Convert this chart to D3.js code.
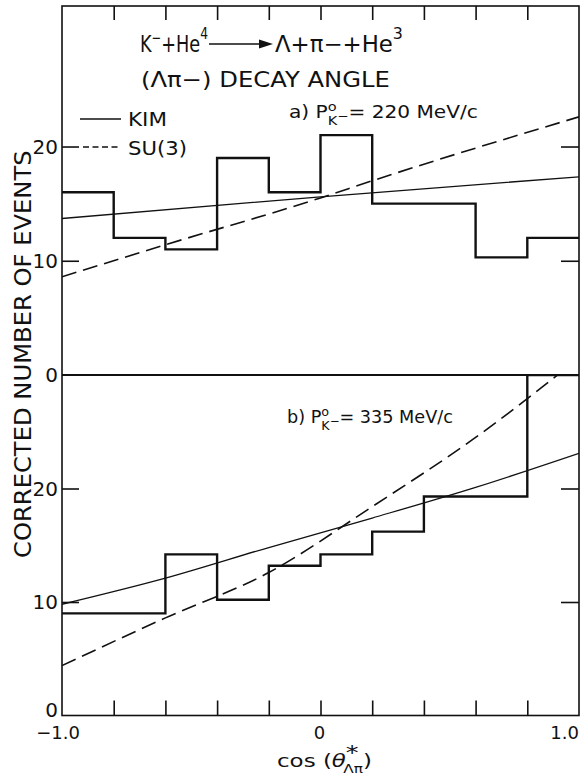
<!DOCTYPE html>
<html><head><meta charset="utf-8">
<script src="https://cdn.jsdelivr.net/npm/d3@7"></script>
<style>
html,body{margin:0;padding:0;background:#fff;}
svg{display:block;}
text{font-family:"DejaVu Sans",sans-serif;fill:#111;}
</style></head><body>
<svg id="chart" width="580" height="776"></svg>
<script>
// ---- data ----
const topEdges  = [-1,-0.8,-0.6,-0.4,-0.2,0,0.2,0.6,0.8,1];
const topCounts = [16,12,11,19,16,21,15,10.3,12];
const botEdges  = [-1,-0.6,-0.4,-0.2,0,0.2,0.4,0.8,1];
const botCounts = [9,14.2,10.2,13.2,14.2,16.2,19.3,30];
const topKimX = [-1,0,1],               topKimY = [13.7,15.6,17.35];
const topSuX  = [-1,-0.6,0,0.2,1],      topSuY  = [8.6,11.4,15.5,17.0,22.6];
const botKimX = [-1,-0.6,-0.2,0.2,0.6,1], botKimY = [9.8,12.1,14.8,17.4,20.1,23.1];
const botSuX  = [-1,-0.6,-0.2,0.2,0.6,1], botSuY  = [4.4,8.6,12.6,18.4,24.5,31.5];
const xTicks = [-0.8,-0.6,-0.4,-0.2,0,0.2,0.4,0.6,0.8];
const xTickLabels = ["−1.0","0","1.0"];
const xTickLabelValues = [-1,0,1];
const yTickValues = [0,10,20];
const yMarkValues = [10,20];
const legendLabels = ["KIM","SU(3)"];
const yTitle = "CORRECTED NUMBER OF EVENTS";

// ---- scales ----
const svg = d3.select("#chart");
const x  = d3.scaleLinear().domain([-1,1]).range([62,579]);
const yT = d3.scaleLinear().domain([0,32.3]).range([375,6]);
const yB = d3.scaleLinear().domain([0,30]).range([715.5,375]);

const defs = svg.append("defs");
defs.append("clipPath").attr("id","cT").append("rect")
  .attr("x",x(-1)).attr("y",yT.range()[1]).attr("width",x(1)-x(-1)).attr("height",yT(0)-yT.range()[1]);
defs.append("clipPath").attr("id","cB").append("rect")
  .attr("x",x(-1)).attr("y",yB(30)).attr("width",x(1)-x(-1)).attr("height",yB(0)-yB(30));

function fitH(g, x0, x1, by){
  const bb = g.node().getBBox();
  const sx = (x1-x0)/bb.width;
  g.attr("transform",`translate(${x0 - bb.x*sx},${by}) scale(${sx},1)`);
}

// ---- panels ----
function panel(y, edges, counts, kx, ky, sx, sy, clip){
  const g = svg.append("g").attr("clip-path",`url(#${clip})`);
  const pts = edges.map((e,i)=>[e, counts[Math.min(i,counts.length-1)]]);
  g.append("path").attr("d", d3.line().x(d=>x(d[0])).y(d=>y(d[1])).curve(d3.curveStepAfter)(pts))
    .attr("fill","none").attr("stroke","#111").attr("stroke-width",2.4);
  g.append("path").attr("d", d3.line().x(d=>x(d[0])).y(d=>y(d[1])).curve(d3.curveMonotoneX)(kx.map((v,i)=>[v,ky[i]])))
    .attr("fill","none").attr("stroke","#111").attr("stroke-width",1.3);
  g.append("path").attr("d", d3.line().x(d=>x(d[0])).y(d=>y(d[1])).curve(d3.curveMonotoneX)(sx.map((v,i)=>[v,sy[i]])))
    .attr("fill","none").attr("stroke","#111").attr("stroke-width",1.6).attr("stroke-dasharray","15,7");
}
panel(yT, topEdges, topCounts, topKimX, topKimY, topSuX, topSuY, "cT");
panel(yB, botEdges, botCounts, botKimX, botKimY, botSuX, botSuY, "cB");

// ---- frame & divider ----
svg.append("rect").attr("x",x(-1)).attr("y",yT.range()[1]).attr("width",x(1)-x(-1)).attr("height",yB(0)-yT.range()[1])
  .attr("fill","none").attr("stroke","#111").attr("stroke-width",1.6);
svg.append("line").attr("x1",x(-1)).attr("x2",x(1)).attr("y1",yT(0)).attr("y2",yT(0))
  .attr("stroke","#111").attr("stroke-width",1.8);

// ---- tick marks via axes ----
function styleAxis(g){ g.select(".domain").remove(); g.selectAll("line").attr("stroke","#111").attr("stroke-width",1.6); g.selectAll("text").remove(); }
svg.append("g").attr("transform",`translate(0,${yT.range()[1]})`)
  .call(d3.axisBottom(x).tickValues(xTicks).tickSize(14).tickFormat("")).call(styleAxis);
svg.append("g").attr("transform",`translate(0,${yB(0)})`)
  .call(d3.axisTop(x).tickValues(xTicks).tickSize(15).tickFormat("")).call(styleAxis);
[yT,yB].forEach(y=>{
  svg.append("g").attr("transform",`translate(${x(-1)},0)`)
    .call(d3.axisRight(y).tickValues(yMarkValues).tickSize(17).tickFormat("")).call(styleAxis);
  svg.append("g").attr("transform",`translate(${x(1)},0)`)
    .call(d3.axisLeft(y).tickValues(yMarkValues).tickSize(18).tickFormat("")).call(styleAxis);
});

// ---- tick labels ----
[yT,yB].forEach(y=>{
  yTickValues.forEach(v=>{
    const off = (y===yB && v===0) ? 1.5 : 7;
    svg.append("text").attr("x",58).attr("y",y(v)+off).attr("text-anchor","end")
      .attr("font-size",20).text(String(v));
  });
});
xTickLabelValues.forEach((v,i)=>{
  const anchor = v===1 ? "end" : "middle";
  const px = v===1 ? x(1) : (v===-1 ? x(-1)-4 : x(0)-1);
  svg.append("text").attr("x",px).attr("y",739).attr("text-anchor",anchor)
    .attr("font-size",18).text(xTickLabels[i]);
});

// ---- legend ----
svg.append("line").attr("x1",80).attr("x2",121).attr("y1",119).attr("y2",119).attr("stroke","#111").attr("stroke-width",1.3);
svg.append("line").attr("x1",83).attr("x2",121).attr("y1",147).attr("y2",147).attr("stroke","#111").attr("stroke-width",1.4).attr("stroke-dasharray","6,3.5");
let g = svg.append("g"); g.append("text").attr("font-size",19.5).text(legendLabels[0]); fitH(g,128,167,126);
g = svg.append("g"); g.append("text").attr("font-size",19.5).text(legendLabels[1]); fitH(g,128,187,155);

// ---- title ----
g = svg.append("g");
let t = g.append("text").attr("font-size",23);
t.append("tspan").text("K");
t.append("tspan").attr("font-size",15).attr("dy",-9).text("−");
t.append("tspan").attr("dy",9).text("+He");
t.append("tspan").attr("font-size",16).attr("dy",-13).text("4");
fitH(g,140,208,52);
svg.append("line").attr("x1",209).attr("x2",262).attr("y1",44).attr("y2",44).attr("stroke","#111").attr("stroke-width",1.6);
svg.append("path").attr("d","M259,39.5L273,44L259,48.5Z").attr("fill","#111");
g = svg.append("g");
t = g.append("text").attr("font-size",23);
t.append("tspan").text("Λ+π−+He");
t.append("tspan").attr("font-size",16).attr("dy",-13).text("3");
fitH(g,275,403,52);
g = svg.append("g");
g.append("text").attr("font-size",21.5).text("(Λπ−) DECAY ANGLE");
fitH(g,141,390,87);

// ---- panel labels ----
function momLabel(prefix, val, x0, x1, by){
  const gg = svg.append("g");
  const tt = gg.append("text").attr("font-size",18);
  tt.append("tspan").text(prefix + " P");
  tt.append("tspan").attr("font-size",13).attr("dy",-7).text("o");
  tt.append("tspan").attr("font-size",13).attr("dx",-8).attr("dy",14).text("K");
  tt.append("tspan").attr("font-size",12).attr("dy",-5).text("−");
  tt.append("tspan").attr("dy",-2).text("= " + val + " MeV/c");
  fitH(gg,x0,x1,by);
}
momLabel("a)", "220", 289, 478, 118);
momLabel("b)", "335", 287, 453, 423);

// ---- x title ----
g = svg.append("g");
t = g.append("text").attr("font-size",18);
t.append("tspan").text("cos (");
t.append("tspan").attr("font-style","italic").text("θ");
t.append("tspan").attr("font-size",20).attr("dy",-8).text("*");
t.append("tspan").attr("font-size",12).attr("dx",-12).attr("dy",14).text("Λπ");
t.append("tspan").attr("dy",-6).text(")");
fitH(g,277,372,767);

// ---- y title ----
g = svg.append("g");
const yt = g.append("text").attr("font-size",23).text(yTitle);
{
  const bb = g.node().getBBox();
  const s = (558-150)/bb.width;
  g.attr("transform",`translate(31,558) rotate(-90) scale(${s},1) translate(${-bb.x},0)`);
}
</script>
</body></html>
